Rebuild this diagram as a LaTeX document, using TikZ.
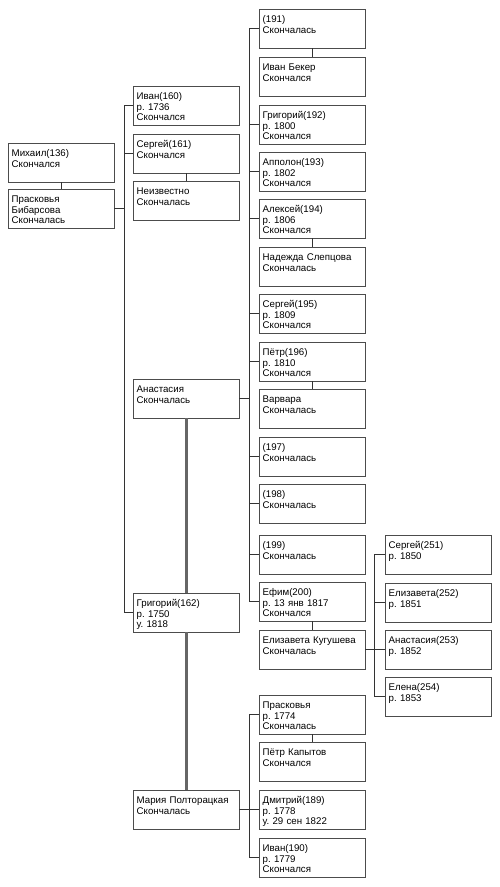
\documentclass[tikz,border=0pt]{standalone}
\usepackage{fontspec}
\setmainfont{Liberation Sans}
\frenchspacing
\begin{document}
\begin{tikzpicture}[x=1pt,y=-1pt]
    \tikzstyle{person}=[draw=black!70,fill=white,anchor=north west,inner xsep=3.5pt,inner ysep=3pt,text width=99pt,align=left,text height=10pt,text depth=23pt,font=\fontsize{9.7}{10.8}\selectfont]
    \tikzstyle{link}=[draw=black!80,line width=0.8pt]
    \tikzstyle{marriage}=[draw=black!60,line width=3pt]

    \useasboundingbox (0,0) rectangle (499,887);

    % first generation
    \node[person] at (8,143) (mikh) {Михаил(136)\\Скончался};
    \node[person] at (8,189) (praskB) {Прасковья\\Бибарсова\\Скончалась};

    % second generation
    \node[person] at (133,86) (ivan160) {Иван(160)\\р. 1736\\Скончался};
    \node[person] at (133,134) (serg161) {Сергей(161)\\Скончался};
    \node[person] at (133,181) (neizv) {Неизвестно\\Скончалась};
    \node[person] at (133,379) (anast) {Анастасия\\Скончалась};
    \node[person] at (133,593) (grig162) {Григорий(162)\\р. 1750\\у. 1818};
    \node[person] at (133,790) (maria) {Мария Полторацкая\\Скончалась};

    % third generation
    \node[person] at (259,9) (n191) {(191)\\Скончалась};
    \node[person] at (259,57) (beker) {Иван Бекер\\Скончался};
    \node[person] at (259,105) (grig192) {Григорий(192)\\р. 1800\\Скончался};
    \node[person] at (259,152) (appolon) {Апполон(193)\\р. 1802\\Скончался};
    \node[person] at (259,199) (aleks) {Алексей(194)\\р. 1806\\Скончался};
    \node[person] at (259,247) (nadezhda) {Надежда Слепцова\\Скончалась};
    \node[person] at (259,294) (serg195) {Сергей(195)\\р. 1809\\Скончался};
    \node[person] at (259,342) (petr196) {Пётр(196)\\р. 1810\\Скончался};
    \node[person] at (259,389) (varvara) {Варвара\\Скончалась};
    \node[person] at (259,437) (n197) {(197)\\Скончалась};
    \node[person] at (259,484) (n198) {(198)\\Скончалась};
    \node[person] at (259,535) (n199) {(199)\\Скончалась};
    \node[person] at (259,582) (efim) {Ефим(200)\\р. 13 янв 1817\\Скончался};
    \node[person] at (259,630) (elizK) {Елизавета Кугушева\\Скончалась};
    \node[person] at (259,695) (prask) {Прасковья\\р. 1774\\Скончалась};
    \node[person] at (259,742) (kapytov) {Пётр Капытов\\Скончался};
    \node[person] at (259,790) (dmitr) {Дмитрий(189)\\р. 1778\\у. 29 сен 1822};
    \node[person] at (259,838) (ivan190) {Иван(190)\\р. 1779\\Скончался};

    % fourth generation
    \node[person] at (385,535) (serg251) {Сергей(251)\\р. 1850};
    \node[person] at (385,583) (eliz252) {Елизавета(252)\\р. 1851};
    \node[person] at (385,630) (anast253) {Анастасия(253)\\р. 1852};
    \node[person] at (385,677) (elena254) {Елена(254)\\р. 1853};

    % couples
    \draw[link] (mikh.south) -- (praskB.north);
    \draw[link] (serg161.south) -- (neizv.north);
    \draw[marriage] (anast.south) -- (grig162.north);
    \draw[marriage] (grig162.south) -- (maria.north);
    \draw[link] (n191.south) -- (beker.north);
    \draw[link] (aleks.south) -- (nadezhda.north);
    \draw[link] (petr196.south) -- (varvara.north);
    \draw[link] (efim.south) -- (elizK.north);
    \draw[link] (prask.south) -- (kapytov.north);

    % children of Mikhail
    \draw[link] (praskB.east) -- ++(10,0);
    \draw[link] (ivan160.west) -- ++(-9,0) |- (grig162.west);
    \draw[link] (serg161.west) -- ++(-9,0);

    % children of Anastasia
    \draw[link] (anast.east) -- ++(10,0);
    \draw[link] (n191.west) -- ++(-10,0) |- (efim.west);
    \foreach \c in {grig192,appolon,aleks,serg195,petr196,n197,n198,n199}
        \draw[link] (\c.west) -- ++(-10,0);

    % children of Maria
    \draw[link] (maria.east) -- ++(10,0);
    \draw[link] (prask.west) -- ++(-10,0) |- (ivan190.west);
    \draw[link] (dmitr.west) -- ++(-10,0);

    % children of Efim
    \draw[link] (elizK.east) -- ++(9,0);
    \draw[link] (serg251.west) -- ++(-11,0) |- (elena254.west);
    \foreach \c in {eliz252,anast253}
        \draw[link] (\c.west) -- ++(-11,0);
\end{tikzpicture}
\end{document}
